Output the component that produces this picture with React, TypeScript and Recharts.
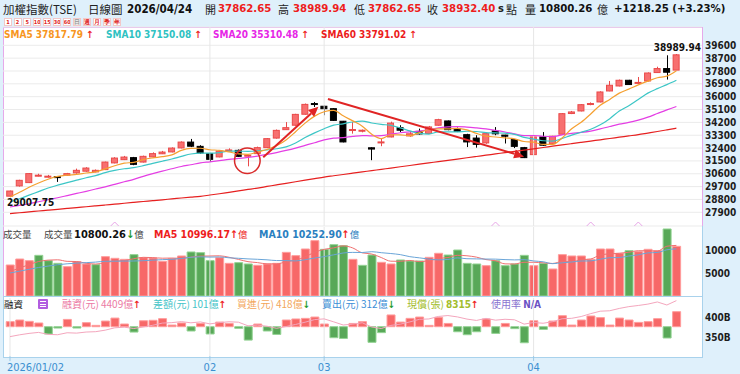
import React from 'react';
import {
  ComposedChart, Bar, Line, XAxis, YAxis, CartesianGrid, ReferenceLine, ReferenceDot, Cell,
} from 'recharts';

// ---------------- DATA ----------------
const OPEN = [29030, 29750, 29980, 30480, 30410, 30400, 30500, 30660, 30780, 30730, 30890, 31360, 31590, 31730, 31420, 31780, 32000, 32130, 32410, 32820, 32520, 32010, 31780, 32200, 32240, 31860, 32010, 32430, 33100, 33690, 34000, 34770, 35520, 35330, 35160, 34280, 33640, 33580, 32420, 32800, 33180, 33830, 33250, 33570, 33420, 34000, 34300, 33760, 33340, 33100, 32760, 33600, 33310, 32990, 32430, 31940, 33180, 32710, 33370, 34820, 35000, 35450, 35630, 36400, 36750, 37150, 36950, 37100, 37690, 37970, 37862.65];
const HIGH = [29420, 30180, 30650, 30600, 30520, 30420, 30660, 30960, 31060, 30900, 31450, 31760, 31850, 31780, 31870, 32100, 32200, 32450, 32870, 33040, 32600, 32060, 32230, 32380, 32300, 31950, 32500, 33100, 33700, 34220, 34800, 35520, 35630, 35380, 35200, 34300, 34220, 33700, 32450, 33060, 34250, 34000, 33600, 33760, 33950, 34450, 34330, 33840, 33400, 33300, 33480, 33870, 33330, 33020, 32480, 33220, 33520, 33260, 34850, 35000, 35480, 35600, 36380, 37100, 37200, 37180, 37380, 37700, 38100, 38900, 38989.94];
const LOW = [29007.75, 29700, 29950, 30420, 30330, 30030, 30470, 30600, 30740, 30700, 30860, 31330, 31560, 31200, 31390, 31750, 31980, 32100, 32380, 32470, 31990, 31430, 31750, 32150, 31780, 31120, 31980, 32400, 33060, 33680, 33960, 34740, 35280, 34700, 34300, 32800, 33410, 33500, 31550, 32530, 33150, 33520, 33200, 33350, 33380, 33970, 33650, 33520, 32470, 32430, 32700, 33300, 32720, 32400, 31700, 31900, 32560, 32680, 33330, 34780, 34970, 35400, 35600, 36380, 36720, 36820, 36900, 37070, 37660, 37200, 37862.65];
const CLOSE = [29390, 30140, 30610, 30500, 30430, 30380, 30610, 30840, 31000, 30840, 31420, 31700, 31770, 31260, 31820, 32010, 32120, 32400, 32820, 32530, 32060, 31610, 32190, 32270, 31820, 31900, 32430, 33060, 33640, 33830, 34760, 35460, 35500, 35160, 34340, 32830, 33700, 33650, 32330, 32830, 34150, 33650, 33400, 33390, 33880, 34390, 33690, 33570, 32830, 32660, 33410, 33400, 33230, 32520, 31730, 33180, 32600, 33230, 34810, 34930, 35440, 35520, 36330, 36800, 37150, 36850, 37000, 37660, 37970, 37714.15, 38932.4];

const SMA5 = [28970, 29300, 29650, 29950, 30214, 30412, 30506, 30552, 30652, 30734, 30942, 31160, 31346, 31398, 31594, 31712, 31796, 31922, 32234, 32376, 32386, 32284, 32242, 32132, 31990, 31958, 32122, 32296, 32570, 32972, 33544, 34150, 34638, 34942, 35044, 34658, 34306, 33936, 33370, 33068, 33332, 33322, 33272, 33484, 33694, 33742, 33750, 33784, 33672, 33428, 33232, 33176, 33108, 33046, 32860, 32816, 32652, 32652, 33110, 33750, 34202, 34786, 35406, 35804, 36248, 36530, 36826, 37092, 37326, 37439, 37817.79];
const SMA10 = [28620, 28850, 29100, 29350, 29600, 29800, 29980, 30150, 30320, 30474, 30677, 30833, 30949, 31025, 31164, 31327, 31478, 31634, 31816, 31985, 32049, 32040, 32082, 32183, 32183, 32172, 32203, 32269, 32351, 32481, 32751, 33136, 33467, 33756, 34008, 34101, 34228, 34287, 34156, 34056, 33995, 33814, 33604, 33427, 33381, 33537, 33536, 33528, 33578, 33561, 33487, 33463, 33440, 33365, 33146, 33024, 32914, 32880, 33078, 33305, 33509, 33719, 34029, 34457, 34999, 35366, 35806, 36249, 36565, 36844, 37150.08];
const SMA20 = [28270, 28380, 28500, 28640, 28780, 28920, 29070, 29220, 29370, 29530, 29680, 29860, 30040, 30210, 30420, 30610, 30790, 30950, 31110, 31230, 31363, 31437, 31516, 31604, 31674, 31750, 31841, 31952, 32084, 32233, 32400, 32588, 32775, 32970, 33096, 33137, 33216, 33278, 33254, 33269, 33373, 33475, 33536, 33593, 33696, 33821, 33884, 33909, 33869, 33810, 33743, 33641, 33527, 33395, 33265, 33282, 33227, 33206, 33330, 33435, 33500, 33593, 33740, 33909, 34072, 34195, 34361, 34565, 34822, 35075, 35310.48];
const SMA60 = [27810, 27870, 27930, 27990, 28050, 28110, 28170, 28230, 28290, 28350, 28410, 28470, 28535, 28595, 28655, 28715, 28775, 28840, 28900, 28960, 29020, 29110, 29200, 29300, 29400, 29500, 29600, 29710, 29820, 29930, 30040, 30150, 30260, 30370, 30460, 30550, 30640, 30730, 30820, 30910, 31000, 31090, 31180, 31270, 31360, 31450, 31540, 31630, 31720, 31810, 31900, 31990, 32080, 32170, 32260, 32350, 32440, 32530, 32620, 32710, 32800, 32890, 32980, 33070, 33160, 33250, 33340, 33450, 33560, 33675, 33791.02];

const VOLUME = [6740, 8040, 7680, 8840, 7680, 7100, 6380, 7460, 6960, 6810, 8550, 8190, 7970, 8990, 8330, 8260, 7540, 8120, 8700, 9570, 9420, 7680, 8330, 7100, 7250, 6960, 6670, 6960, 7100, 9490, 8770, 10220, 12030, 10145, 11160, 10940, 7970, 6670, 8910, 7320, 6960, 7830, 7610, 7610, 8410, 9280, 8910, 10000, 7100, 6960, 6590, 7680, 6590, 6960, 8840, 6590, 7100, 5870, 8990, 8700, 8700, 7970, 10220, 10220, 9280, 9860, 9640, 10150, 9860, 14570, 10800.26];
const VOLUME_UP = [1, 1, 1, 0, 0, 0, 1, 1, 1, 0, 1, 1, 1, 0, 1, 1, 1, 1, 1, 0, 0, 0, 1, 1, 0, 0, 1, 1, 1, 1, 1, 1, 1, 0, 0, 0, 1, 0, 0, 1, 1, 0, 0, 0, 1, 1, 0, 0, 0, 0, 1, 0, 0, 0, 0, 1, 0, 1, 1, 1, 1, 1, 1, 1, 1, 0, 1, 1, 1, 0, 1];
const VOL_MA5 = [5300, 6100, 6800, 7500, 7796, 7868, 7536, 7492, 7116, 6942, 7232, 7594, 7696, 8102, 8406, 8348, 8218, 8248, 8190, 8438, 8670, 8698, 8740, 8420, 7956, 7464, 7262, 6988, 6988, 7436, 7798, 8508, 9522, 10131, 10465, 10899, 10449, 9377, 9130, 8362, 7566, 7538, 7726, 7466, 7684, 8148, 8364, 8842, 8740, 8450, 7912, 7666, 6984, 6956, 7332, 7332, 7216, 7072, 7478, 7450, 7872, 8046, 8916, 9162, 9278, 9510, 9844, 9830, 9758, 10816, 10996.17];
const VOL_MA10 = [5000, 5400, 5800, 6200, 6500, 6800, 7000, 7150, 7250, 7369, 7550, 7565, 7594, 7609, 7674, 7790, 7906, 7972, 8146, 8422, 8509, 8458, 8494, 8305, 8197, 8067, 7980, 7864, 7704, 7696, 7631, 7885, 8255, 8560, 8950, 9349, 9479, 9450, 9631, 9414, 9233, 8994, 8552, 8298, 8023, 7857, 7951, 8284, 8103, 8067, 8030, 8015, 7913, 7848, 7891, 7622, 7441, 7028, 7217, 7391, 7602, 7631, 7994, 8320, 8364, 8691, 8945, 9373, 9460, 10047, 10252.9];

const MARGIN_CHANGE = [34, 45, 36, 25, -49, -9, 49, -9, 27, 9, 38, 58, 18, -36, 40, 43, 54, 11, 25, -29, 22, -49, 31, 22, -11, -90, 18, -29, -52, 45, 52, 56, 65, 18, -74, -79, 22, 34, -105, -40, 79, 31, 56, 65, 9, 63, 22, -34, -54, -34, 52, -45, 22, -13, -108, 40, -18, 38, 74, 11, 45, 72, 61, 11, 58, 45, 29, 34, 54, -76, 101];
const MARGIN_BALANCE = [350.9, 355.4, 359.0, 361.5, 356.6, 355.7, 360.6, 359.7, 362.4, 363.3, 367.1, 372.9, 374.7, 371.1, 375.1, 379.4, 384.8, 385.9, 388.4, 385.5, 387.7, 382.8, 385.9, 388.1, 387.0, 378.0, 379.8, 376.9, 371.7, 376.2, 381.4, 387.0, 393.5, 395.3, 387.9, 380.0, 382.2, 385.6, 375.1, 371.1, 379.0, 382.1, 387.7, 394.2, 395.1, 401.4, 403.6, 400.2, 394.8, 391.4, 396.6, 392.1, 394.3, 393.0, 382.2, 386.2, 384.4, 388.2, 395.6, 396.7, 401.2, 408.4, 414.5, 415.6, 421.4, 425.9, 428.8, 432.2, 437.6, 430.0, 440.9];

const PRICE_TICKS = [27900, 28800, 29700, 30600, 31500, 32400, 33300, 34200, 35100, 36000, 36900, 37800, 38700, 39600];
const VOLUME_TICKS = [5000, 10000];
const BALANCE_TICKS = [350, 400];
const MONTH_INDEX = [0, 21, 33, 55];
const MONTH_LABELS = ['2026/01/02', '02', '03', '04'];
const EVENT_INDEX = [11, 51, 61, 66];
const ARROWS = [
  { x1: 26.6, y1: 31754, x2: 32.4, y2: 35300 },
  { x1: 33.4, y1: 35838, x2: 54.0, y2: 31800 },
];
const CIRCLE = { x: 24.93, y: 31515 };
const LOW_LABEL = { x: 0, y: 29007.75, text: '29007.75' };
const HIGH_LABEL = { x: 70, y: 38989.94, text: '38989.94' };

// ---------------- STYLE ----------------
const NUM = '"DejaVu Sans Condensed", "DejaVu Sans", "Liberation Sans", sans-serif';
const CJK = '"Noto Sans CJK TC", "Noto Sans CJK SC", sans-serif';
const X_DOMAIN: [number, number] = [-0.735, 72.69];
const UP_FILL = '#f77070';
const UP_STROKE = '#ea4a4a';
const RED_TXT = '#ee1d1d';

const rows = OPEN.map((o, i) => ({
  i,
  open: o, high: HIGH[i], low: LOW[i], close: CLOSE[i],
  sma5: SMA5[i], sma10: SMA10[i], sma20: SMA20[i], sma60: SMA60[i],
  vol: VOLUME[i], volUp: VOLUME_UP[i], volMa5: VOL_MA5[i], volMa10: VOL_MA10[i],
  mchg: MARGIN_CHANGE[i], mbal: MARGIN_BALANCE[i],
}));

function Candle(props: any) {
  const { x, y, width, height, payload } = props;
  if (!payload || height == null || isNaN(y)) return null;
  const { open, close, high, low } = payload;
  const k = height / (high - low);
  const py = (v: number) => y + (high - v) * k;
  const up = close >= open;
  const top = py(Math.max(open, close));
  const bot = py(Math.min(open, close));
  const cx = Math.round(x + width / 2) + 0.5;
  const color = up ? UP_STROKE : '#000';
  return (
    <g>
      <line x1={cx} x2={cx} y1={y} y2={y + height} stroke={color} strokeWidth={1} />
      <rect x={x + 0.5} y={top} width={width - 1} height={Math.max(bot - top, 1)} fill={up ? UP_FILL : '#000'} stroke={color} strokeWidth={1} />
    </g>
  );
}

function Arrow(p: any) {
  const { x1, y1, x2, y2 } = p;
  if ([x1, y1, x2, y2].some((v) => v == null || isNaN(v))) return null;
  const a = Math.atan2(y2 - y1, x2 - x1);
  const L = 10, w = 4.5;
  const bx = x2 - L * Math.cos(a), by = y2 - L * Math.sin(a);
  const pts = `${x2},${y2} ${bx - w * Math.sin(a)},${by + w * Math.cos(a)} ${bx + w * Math.sin(a)},${by - w * Math.cos(a)}`;
  return (
    <g>
      <line x1={x1} y1={y1} x2={bx} y2={by} stroke="#e02424" strokeWidth={2} />
      <polygon points={pts} fill="#e02424" />
    </g>
  );
}

function Caret(p: any) {
  const { cx, cy } = p;
  return <path d={`M${cx - 4},${cy} L${cx},${cy - 4} L${cx + 4},${cy}`} stroke="#e8a6e8" fill="none" strokeWidth={1} />;
}

function MonthTick(p: any) {
  const { x, y, payload } = p;
  const idx = MONTH_INDEX.indexOf(payload.value);
  const first = idx === 0;
  return (
    <text x={first ? x - 3 : x} y={y} dy="0.71em" textAnchor={first ? 'start' : 'middle'} fontSize={11} fill="#3b8fd0" fontFamily={NUM}>
      {MONTH_LABELS[idx]}
    </text>
  );
}

const axisTick = { fill: '#1d1d1d', fontSize: 10, fontWeight: 700, fontFamily: NUM };

function T({ x, y, size = 11, color = '#333', bold = false, font = CJK, children }: any) {
  return (
    <span style={{ position: 'absolute', left: x, top: y - 7, height: 14, lineHeight: '14px', fontSize: size, color, fontWeight: bold ? 700 : 400, fontFamily: font, whiteSpace: 'nowrap' }}>
      {children}
    </span>
  );
}

const Up = ({ c = RED_TXT }: any) => <span style={{ color: c, fontWeight: 700, fontFamily: NUM }}>↑</span>;
const Down = ({ c = '#1f9a2f' }: any) => <span style={{ color: c, fontWeight: 700, fontFamily: NUM }}>↓</span>;

const BUTTONS = ['1', '2', '5', '10', '15', '30', '60', '日', '週', '月', '季', '年'];

export default function App() {
  return (
    <div style={{ position: 'absolute', left: 0, top: 0, width: 740, height: 374, background: '#dff0fb', overflow: 'hidden', fontFamily: NUM }}>
      {/* panels */}
      <div style={{ position: 'absolute', left: 3, top: 27, width: 700, height: 200, boxSizing: 'border-box', background: '#fff', border: '1px solid #e6a9ea' }} />
      <div style={{ position: 'absolute', left: 3, top: 226, width: 700, height: 71, boxSizing: 'border-box', background: '#fff', borderLeft: '1px solid #e6a9ea', borderRight: '1px solid #a9d2ec', borderBottom: '1px solid #a9d2ec' }} />
      <div style={{ position: 'absolute', left: 3, top: 296, width: 700, height: 62, boxSizing: 'border-box', background: '#fff', border: '1px solid #a9d2ec' }} />

      {/* price chart */}
      <ComposedChart width={740} height={374} data={rows} margin={{ top: 27, right: 0, bottom: 148, left: 3 }} style={{ position: 'absolute', left: 0, top: 0 }}>
        <CartesianGrid vertical={false} stroke="#ebebeb" />
        <XAxis dataKey="i" type="number" domain={X_DOMAIN} hide allowDataOverflow />
        <YAxis orientation="right" width={38} domain={[26940, 40882]} ticks={PRICE_TICKS} interval={0} tick={axisTick} tickLine={false} axisLine={false} tickSize={0} tickMargin={3} allowDataOverflow />
        {MONTH_INDEX.slice(1).map((m) => <ReferenceLine key={m} x={m} stroke="#e6e6e6" />)}
        <Line dataKey="sma60" stroke="#e62020" strokeWidth={1.2} dot={false} type="monotone" isAnimationActive={false} />
        <Bar dataKey={(d: any) => [d.low, d.high]} shape={Candle} barSize={7} isAnimationActive={false} />
        <Line dataKey="sma20" stroke="#e43ee4" strokeWidth={1.2} dot={false} type="monotone" isAnimationActive={false} />
        <Line dataKey="sma10" stroke="#3cc6c6" strokeWidth={1.2} dot={false} type="monotone" isAnimationActive={false} />
        <Line dataKey="sma5" stroke="#f5a031" strokeWidth={1.2} dot={false} type="monotone" isAnimationActive={false} />
        {ARROWS.map((a, k) => (
          <ReferenceLine key={k} segment={[{ x: a.x1, y: a.y1 }, { x: a.x2, y: a.y2 }]} shape={Arrow} ifOverflow="visible" />
        ))}
        <ReferenceDot x={CIRCLE.x} y={CIRCLE.y} r={12.8} fill="none" stroke="#d92a2a" strokeWidth={1.5} ifOverflow="visible" />
        <ReferenceDot x={LOW_LABEL.x} y={LOW_LABEL.y} ifOverflow="visible"
          shape={(p: any) => <text x={p.cx - 3} y={p.cy + 9.5} fontSize={10} fontWeight={700} fill="#111" fontFamily={NUM}>{LOW_LABEL.text}</text>} />
        <ReferenceDot x={HIGH_LABEL.x} y={HIGH_LABEL.y} ifOverflow="visible"
          shape={(p: any) => <text x={p.cx + 1} y={p.cy - 3} textAnchor="middle" fontSize={10} fontWeight={700} fill="#111" fontFamily={NUM}>{HIGH_LABEL.text}</text>} />
        {EVENT_INDEX.map((e) => <ReferenceDot key={e} x={e} y={26940} shape={Caret} ifOverflow="visible" />)}
      </ComposedChart>

      {/* volume chart */}
      <ComposedChart width={740} height={374} data={rows} margin={{ top: 227, right: 0, bottom: 78, left: 3 }} style={{ position: 'absolute', left: 0, top: 0 }}>
        <XAxis dataKey="i" type="number" domain={X_DOMAIN} hide allowDataOverflow />
        <YAxis orientation="right" width={38} domain={[0, 15000]} ticks={VOLUME_TICKS} interval={0} tick={axisTick} tickLine={false} axisLine={false} tickSize={0} tickMargin={3} allowDataOverflow />
        {MONTH_INDEX.slice(1).map((m) => <ReferenceLine key={m} x={m} stroke="#e6e6e6" />)}
        <Bar dataKey="vol" barSize={8} isAnimationActive={false}>
          {rows.map((r) => (
            <Cell key={r.i} fill={r.volUp ? '#f76868' : '#58a858'} stroke={r.volUp ? '#ff9c9c' : '#93d393'} />
          ))}
        </Bar>
        <Line dataKey="volMa5" stroke="#f07070" strokeWidth={1} dot={false} type="monotone" isAnimationActive={false} />
        <Line dataKey="volMa10" stroke="#6aa5d8" strokeWidth={1} dot={false} type="monotone" isAnimationActive={false} />
      </ComposedChart>

      {/* margin chart */}
      <ComposedChart width={740} height={374} data={rows} margin={{ top: 298, right: 0, bottom: 4, left: 3 }} style={{ position: 'absolute', left: 0, top: 0 }}>
        <XAxis dataKey="i" type="number" domain={X_DOMAIN} allowDataOverflow ticks={MONTH_INDEX} interval={0} height={14}
          tick={<MonthTick />} tickSize={5} tickMargin={2} axisLine={false} tickLine={{ stroke: '#9cc9e6' }} />
        <YAxis yAxisId="chg" hide domain={[-197, 193]} allowDataOverflow />
        <YAxis yAxisId="bal" orientation="right" width={38} domain={[302.5, 447.5]} ticks={BALANCE_TICKS} interval={0}
          tickFormatter={(v: number) => `${v}B`} tick={axisTick} tickLine={false} axisLine={false} tickSize={0} tickMargin={3} allowDataOverflow />
        {MONTH_INDEX.map((m) => <ReferenceLine key={m} yAxisId="chg" x={m} stroke="#e6e6e6" />)}
        <Bar yAxisId="chg" dataKey="mchg" barSize={8} isAnimationActive={false}>
          {rows.map((r) => (
            <Cell key={r.i} fill={r.mchg >= 0 ? '#f76868' : '#58a858'} stroke={r.mchg >= 0 ? '#ff9c9c' : '#93d393'} />
          ))}
        </Bar>
        <Line yAxisId="bal" dataKey="mbal" stroke="#f4a6bd" strokeWidth={1} dot={false} type="linear" isAnimationActive={false} />
      </ComposedChart>

      {/* header */}
      <T x={3} y={8.5} size={11.5} color="#222">加權指數(TSE)</T>
      <T x={88} y={8.5} size={11.5} color="#222">日線圖</T>
      <T x={127} y={8.5} size={11.5} color="#111" bold font={NUM}>2026/04/24</T>
      <T x={205} y={8.5} size={11} color="#222">開</T>
      <T x={218} y={8.5} size={11.3} color={RED_TXT} bold font={NUM}>37862.65</T>
      <T x={278} y={8.5} size={11} color="#222">高</T>
      <T x={293} y={8.5} size={11.3} color={RED_TXT} bold font={NUM}>38989.94</T>
      <T x={354} y={8.5} size={11} color="#222">低</T>
      <T x={368} y={8.5} size={11.3} color={RED_TXT} bold font={NUM}>37862.65</T>
      <T x={427} y={8.5} size={11} color="#222">收</T>
      <T x={442} y={8.5} size={11.3} color={RED_TXT} bold font={NUM}>38932.40</T>
      <T x={498} y={8.5} size={11} color="#222" bold font={NUM}>s</T>
      <T x={506} y={8.5} size={11} color="#222">點</T>
      <T x={525} y={8.5} size={11} color="#222">量</T>
      <T x={539} y={8.5} size={11.3} color="#111" bold font={NUM}>10800.26</T>
      <T x={597} y={8.5} size={11} color="#222">億</T>
      <T x={614} y={8.5} size={11.3} color="#111" bold font={NUM}>+1218.25 (+3.23%)</T>

      {/* period buttons */}
      {BUTTONS.map((b, k) => (
        <span key={k} style={{ position: 'absolute', left: 4 + k * 9.6 + (k > 2 ? (k - 3) * 0.4 : 0), top: 18, width: 8, height: 8, boxSizing: 'border-box', border: '1px solid #f2c8c8', background: k === 7 ? '#e9e9e9' : '#fff', fontSize: 5.5, lineHeight: '6px', textAlign: 'center', color: k === 7 ? '#999' : '#d22', fontFamily: NUM, fontWeight: 700, overflow: 'hidden' }}>{b}</span>
      ))}

      {/* price legend */}
      <T x={4} y={34.5} size={10} color="#f7961e" bold font={NUM}>SMA5 37817.79 <Up /></T>
      <T x={106} y={34.5} size={10} color="#2fc2c2" bold font={NUM}>SMA10 37150.08 <Up /></T>
      <T x={213} y={34.5} size={10} color="#e626e6" bold font={NUM}>SMA20 35310.48 <Up /></T>
      <T x={321} y={34.5} size={10} color="#ec1c1c" bold font={NUM}>SMA60 33791.02 <Up /></T>

      {/* volume legend */}
      <T x={3} y={233.5} size={9.5} color="#444">成交量</T>
      <T x={44} y={233.5} size={9.5} color="#444">成交量</T>
      <T x={74} y={233.5} size={11} color="#111" bold font={NUM}>10800.26<Down /><span style={{ fontFamily: CJK, fontWeight: 400, color: '#444', fontSize: 9.5 }}>億</span></T>
      <T x={154} y={233.5} size={10.5} color={RED_TXT} bold font={NUM}>MA5 10996.17<Up /><span style={{ fontFamily: CJK, fontWeight: 400, fontSize: 9.5 }}>億</span></T>
      <T x={259} y={233.5} size={10.5} color="#2a7fc0" bold font={NUM}>MA10 10252.90<Up /><span style={{ fontFamily: CJK, fontWeight: 400, fontSize: 9.5 }}>億</span></T>

      {/* margin legend */}
      <T x={4} y={304} size={9.5} color="#111">融資</T>
      <span style={{ position: 'absolute', left: 38, top: 299, width: 10, height: 10, background: '#b25de0', borderRadius: 1 }}>
        <span style={{ position: 'absolute', left: 2, top: 2, width: 6, height: 1, background: '#fff' }} />
        <span style={{ position: 'absolute', left: 2, top: 4.5, width: 6, height: 1, background: '#fff' }} />
        <span style={{ position: 'absolute', left: 2, top: 7, width: 6, height: 1, background: '#fff' }} />
      </span>
      <T x={62} y={304} size={10} color="#ec7aa4">融資(元) 4409億<Up /></T>
      <T x={153} y={304} size={10} color="#45c4c8">差額(元) 101億<Up /></T>
      <T x={237} y={304} size={10} color="#f2a65a">買進(元) 418億<Down /></T>
      <T x={322} y={304} size={10} color="#3b8ed6">賣出(元) 312億<Down /></T>
      <T x={407} y={304} size={10} color="#a3bd2c">現償(張) <span style={{ fontFamily: NUM, fontWeight: 700 }}>8315</span><Up /></T>
      <T x={491} y={304} size={10} color="#8a74d0">使用率 <span style={{ fontFamily: NUM, fontWeight: 700, color: '#6a52c4' }}>N/A</span></T>
    </div>
  );
}
